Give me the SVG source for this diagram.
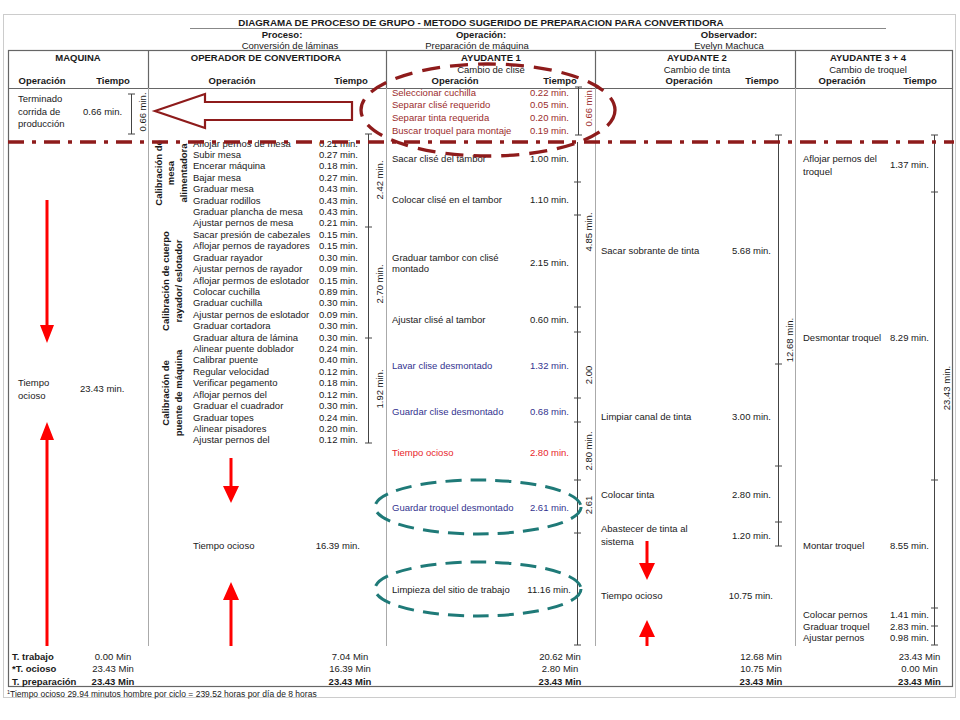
<svg xmlns="http://www.w3.org/2000/svg" width="960" height="720" viewBox="0 0 960 720">
<style>
text{font-family:"Liberation Sans",Arial,sans-serif;font-size:9.5px;fill:#1a1a1a}
.b{font-weight:bold}
.c{text-anchor:middle}
.r{text-anchor:end}
.dr{fill:#9B2C2C}
.nv{fill:#33338F}
.rd{fill:#E8262B}
.frame{fill:none;stroke:#666;stroke-width:1.2}
.col{stroke:#aaa;stroke-width:1}
.brk{stroke:#444;stroke-width:1;fill:none}
.arw{fill:#FF0000}
.dd{fill:none;stroke:#8E1B1B;stroke-width:3.5;stroke-dasharray:16 8 4 8}
.rell{fill:none;stroke:#8E1B1B;stroke-width:3.3;stroke-dasharray:18 10}
.tell{fill:none;stroke:#1F7A78;stroke-width:3;stroke-dasharray:16 9}
</style>
<rect x="0" y="0" width="960" height="720" fill="#fff"/>
<rect x="3.5" y="14.5" width="952" height="683" fill="none" stroke="#ccc" stroke-width="1"/>

<g id="header">
<text x="481" y="25.5" class="b c" style="font-size:9.8px">DIAGRAMA DE PROCESO DE GRUPO - METODO SUGERIDO DE PREPARACION PARA CONVERTIDORA</text>
<line x1="190" y1="28.5" x2="886" y2="28.5" stroke="#888" stroke-width="1"/>
<text x="282" y="38" class="b c">Proceso:</text>
<text x="290" y="48.5" class="c">Conversión de láminas</text>
<text x="481" y="38" class="b c">Operación:</text>
<text x="477" y="48.5" class="c">Preparación de máquina</text>
<text x="729" y="38" class="b c">Observador:</text>
<text x="729" y="48.5" class="c">Evelyn Machuca</text>
<rect x="8.5" y="50.5" width="944" height="636" class="frame"/>
<line x1="8" y1="88.5" x2="952" y2="88.5" stroke="#666" stroke-width="1.2"/>
<line x1="148.5" y1="50" x2="148.5" y2="88" stroke="#666" stroke-width="1.2"/>
<line x1="386.5" y1="50" x2="386.5" y2="88" stroke="#666" stroke-width="1.2"/>
<line x1="595.5" y1="50" x2="595.5" y2="88" stroke="#666" stroke-width="1.2"/>
<line x1="795.5" y1="50" x2="795.5" y2="88" stroke="#666" stroke-width="1.2"/>
<line x1="148.5" y1="88" x2="148.5" y2="646" class="col"/>
<line x1="386.5" y1="88" x2="386.5" y2="646" class="col"/>
<line x1="595.5" y1="88" x2="595.5" y2="646" class="col"/>
<line x1="795.5" y1="88" x2="795.5" y2="646" class="col"/>
<text x="78" y="60.5" class="b c">MAQUINA</text>
<text x="266" y="60.5" class="b c">OPERADOR DE CONVERTIDORA</text>
<text x="491" y="60.5" class="b c">AYUDANTE 1</text>
<text x="697" y="60.5" class="b c">AYUDANTE 2</text>
<text x="868" y="60.5" class="b c">AYUDANTE 3 + 4</text>
<text x="491" y="72.5" class="c">Cambio de clisé</text>
<text x="697" y="72.5" class="c">Cambio de tinta</text>
<text x="868" y="72.5" class="c">Cambio de troquel</text>
<text x="42" y="84" class="b c">Operación</text>
<text x="113" y="84" class="b c">Tiempo</text>
<text x="232" y="84" class="b c">Operación</text>
<text x="351" y="84" class="b c">Tiempo</text>
<text x="455" y="84" class="b c">Operación</text>
<text x="560" y="84" class="b c">Tiempo</text>
<text x="689" y="84" class="b c">Operación</text>
<text x="762" y="84" class="b c">Tiempo</text>
<text x="842" y="84" class="b c">Operación</text>
<text x="920" y="84" class="b c">Tiempo</text>
</g>

<g id="maquina">
<text x="18" y="101.5">Terminado</text>
<text x="18" y="114.5">corrida de</text>
<text x="18" y="127">producción</text>
<text x="83" y="114.5">0.66 min.</text>
<path d="M131.5 94V134M128 94H135M128 134H135" class="brk"/>
<text transform="translate(145.5,112) rotate(-90)" class="c">0.66 min.</text>
<text x="18" y="385.5">Tiempo</text>
<text x="18" y="398.5">ocioso</text>
<text x="80" y="391.5">23.43 min.</text>
</g>

<g id="operador">
<text transform="translate(161.5,173) rotate(-90)" class="b c">Calibración de</text>
<text transform="translate(174,173) rotate(-90)" class="b c">mesa</text>
<text transform="translate(186.5,173) rotate(-90)" class="b c">alimentadora</text>
<text transform="translate(168.5,281) rotate(-90)" class="b c">Calibración de cuerpo</text>
<text transform="translate(181.5,281) rotate(-90)" class="b c">rayador/ eslotador</text>
<text transform="translate(168.5,393) rotate(-90)" class="b c">Calibración de</text>
<text transform="translate(181.5,393) rotate(-90)" class="b c">puente de máquina</text>
<text x="193" y="146.5">Aflojar pernos de mesa<tspan x="193" dy="11.42">Subir mesa</tspan><tspan x="193" dy="11.42">Encerar máquina</tspan><tspan x="193" dy="11.42">Bajar mesa</tspan><tspan x="193" dy="11.42">Graduar mesa</tspan><tspan x="193" dy="11.42">Graduar rodillos</tspan><tspan x="193" dy="11.42">Graduar plancha de mesa</tspan><tspan x="193" dy="11.42">Ajustar pernos de mesa</tspan><tspan x="193" dy="11.42">Sacar presión de cabezales</tspan><tspan x="193" dy="11.42">Aflojar pernos de rayadores</tspan><tspan x="193" dy="11.42">Graduar rayador</tspan><tspan x="193" dy="11.42">Ajustar pernos de rayador</tspan><tspan x="193" dy="11.42">Aflojar permos de eslotador</tspan><tspan x="193" dy="11.42">Colocar cuchilla</tspan><tspan x="193" dy="11.42">Graduar cuchilla</tspan><tspan x="193" dy="11.42">Ajustar pernos de eslotador</tspan><tspan x="193" dy="11.42">Graduar cortadora</tspan><tspan x="193" dy="11.42">Graduar altura de lámina</tspan><tspan x="193" dy="11.42">Alinear puente doblador</tspan><tspan x="193" dy="11.42">Calibrar puente</tspan><tspan x="193" dy="11.42">Regular velocidad</tspan><tspan x="193" dy="11.42">Verificar pegamento</tspan><tspan x="193" dy="11.42">Aflojar pernos del</tspan><tspan x="193" dy="11.42">Graduar el cuadrador</tspan><tspan x="193" dy="11.42">Graduar topes</tspan><tspan x="193" dy="11.42">Alinear pisadores</tspan><tspan x="193" dy="11.42">Ajustar pernos del</tspan></text>
<text x="358" y="146.5" class="r">0.21 min.<tspan x="358" dy="11.42">0.27 min.</tspan><tspan x="358" dy="11.42">0.18 min.</tspan><tspan x="358" dy="11.42">0.27 min.</tspan><tspan x="358" dy="11.42">0.43 min.</tspan><tspan x="358" dy="11.42">0.43 min.</tspan><tspan x="358" dy="11.42">0.43 min.</tspan><tspan x="358" dy="11.42">0.21 min.</tspan><tspan x="358" dy="11.42">0.15 min.</tspan><tspan x="358" dy="11.42">0.15 min.</tspan><tspan x="358" dy="11.42">0.30 min.</tspan><tspan x="358" dy="11.42">0.09 min.</tspan><tspan x="358" dy="11.42">0.15 min.</tspan><tspan x="358" dy="11.42">0.89 min.</tspan><tspan x="358" dy="11.42">0.30 min.</tspan><tspan x="358" dy="11.42">0.09 min.</tspan><tspan x="358" dy="11.42">0.30 min.</tspan><tspan x="358" dy="11.42">0.30 min.</tspan><tspan x="358" dy="11.42">0.24 min.</tspan><tspan x="358" dy="11.42">0.40 min.</tspan><tspan x="358" dy="11.42">0.12 min.</tspan><tspan x="358" dy="11.42">0.18 min.</tspan><tspan x="358" dy="11.42">0.12 min.</tspan><tspan x="358" dy="11.42">0.30 min.</tspan><tspan x="358" dy="11.42">0.24 min.</tspan><tspan x="358" dy="11.42">0.20 min.</tspan><tspan x="358" dy="11.42">0.12 min.</tspan></text>
<path d="M368.5 134V443M365 134H372M365 227H372M365 338H372M365 443H372" class="brk"/>
<text transform="translate(382.5,180) rotate(-90)" class="c">2.42 min.</text>
<text transform="translate(382.5,284) rotate(-90)" class="c">2.70 min.</text>
<text transform="translate(382.5,389) rotate(-90)" class="c">1.92 min.</text>
<text x="193" y="548.5">Tiempo ocioso</text>
<text x="360" y="548.5" class="r">16.39 min.</text>
</g>

<g id="ayudante1">
<text x="392" y="95.5" class="dr">Seleccionar cuchilla</text>
<text x="392" y="107.5" class="dr">Separar clisé requerido</text>
<text x="392" y="120.5" class="dr">Separar tinta requerida</text>
<text x="392" y="133.5" class="dr">Buscar troquel para montaje</text>
<text x="569" y="95.5" class="r dr">0.22 min.</text>
<text x="569" y="107.5" class="r dr">0.05 min.</text>
<text x="569" y="120.5" class="r dr">0.20 min.</text>
<text x="569" y="133.5" class="r dr">0.19 min.</text>
<path d="M578.5 87V135M575 87H582M575 135H582" class="brk"/>
<text transform="translate(591.5,107) rotate(-90)" class="c dr">0.66 min.</text>
<text x="392" y="161.5">Sacar clisé del tambor</text>
<text x="569" y="161.5" class="r">1.00 min.</text>
<text x="392" y="202.5">Colocar clisé en el tambor</text>
<text x="569" y="202.5" class="r">1.10 min.</text>
<text x="392" y="260.5">Graduar tambor con clisé</text>
<text x="392" y="272">montado</text>
<text x="569" y="266" class="r">2.15 min.</text>
<text x="392" y="322.5">Ajustar clisé al tambor</text>
<text x="569" y="322.5" class="r">0.60 min.</text>
<text x="392" y="368.5" class="nv">Lavar clise desmontado</text>
<text x="569" y="368.5" class="r nv">1.32 min.</text>
<text x="392" y="414.5" class="nv">Guardar clise desmontado</text>
<text x="569" y="414.5" class="r nv">0.68 min.</text>
<text x="392" y="455.5" class="rd">Tiempo ocioso</text>
<text x="569" y="455.5" class="r rd">2.80 min.</text>
<text x="392" y="510.5" class="nv">Guardar troquel desmontado</text>
<text x="569" y="510.5" class="r nv">2.61 min.</text>
<text x="392" y="592.5">Limpieza del sitio de trabajo</text>
<text x="571" y="592.5" class="r">11.16 min.</text>
<path d="M577.5 142V645M574 182H581M574 215H581M574 307H581M574 332H581M574 398H581M574 422H581M574 480H581M574 533H581M574 645H581" class="brk"/>
<text transform="translate(591.5,232) rotate(-90)" class="c">4.85 min.</text>
<text transform="translate(591.5,375) rotate(-90)" class="c">2.00</text>
<text transform="translate(591.5,451) rotate(-90)" class="c">2.80 min.</text>
<text transform="translate(591.5,505) rotate(-90)" class="c">2.61</text>
</g>

<g id="ayudante2">
<text x="601" y="253.5">Sacar sobrante de tinta</text>
<text x="771" y="253.5" class="r">5.68 min.</text>
<text x="601" y="419.5">Limpiar canal de tinta</text>
<text x="771" y="419.5" class="r">3.00 min.</text>
<text x="601" y="497.5">Colocar tinta</text>
<text x="771" y="497.5" class="r">2.80 min.</text>
<text x="601" y="531.5">Abastecer de tinta al</text>
<text x="601" y="544.5">sistema</text>
<text x="771" y="538.5" class="r">1.20 min.</text>
<text x="601" y="598.5">Tiempo ocioso</text>
<text x="773" y="598.5" class="r">10.75 min.</text>
<path d="M778.5 135V546M775 135H782M775 364H782M775 466H782M775 522H782M775 546H782" class="brk"/>
<text transform="translate(792.5,340) rotate(-90)" class="c">12.68 min.</text>
</g>

<g id="ayudante34">
<text x="803" y="161.5">Aflojar pernos del</text>
<text x="803" y="174.5">troquel</text>
<text x="929" y="167.5" class="r">1.37 min.</text>
<text x="803" y="340.5">Desmontar troquel</text>
<text x="929" y="340.5" class="r">8.29 min.</text>
<text x="803" y="548.5">Montar troquel</text>
<text x="929" y="548.5" class="r">8.55 min.</text>
<text x="803" y="617.5">Colocar pernos</text>
<text x="929" y="617.5" class="r">1.41 min.</text>
<text x="803" y="629.5">Graduar troquel</text>
<text x="929" y="629.5" class="r">2.83 min.</text>
<text x="803" y="640.5">Ajustar pernos</text>
<text x="929" y="640.5" class="r">0.98 min.</text>
<path d="M934.5 135V645M931 135H938M931 192H938M931 480H938M931 608H938M931 626H938M931 645H938" class="brk"/>
<text transform="translate(949.5,388) rotate(-90)" class="c">23.43 min.</text>
</g>

<g id="totals">
<text x="12" y="659.5" class="b">T. trabajo</text>
<text x="12" y="672" class="b">*T. ocioso</text>
<text x="12" y="684.5" class="b">T. preparación</text>
<text x="113" y="659.5" class="c">0.00 Min</text>
<text x="113" y="672" class="c">23.43 Min</text>
<text x="113" y="684.5" class="b c">23.43 Min</text>
<text x="350" y="659.5" class="c">7.04 Min</text>
<text x="350" y="672" class="c">16.39 Min</text>
<text x="350" y="684.5" class="b c">23.43 Min</text>
<text x="560" y="659.5" class="c">20.62 Min</text>
<text x="560" y="672" class="c">2.80 Min</text>
<text x="560" y="684.5" class="b c">23.43 Min</text>
<text x="761" y="659.5" class="c">12.68 Min</text>
<text x="761" y="672" class="c">10.75 Min</text>
<text x="761" y="684.5" class="b c">23.43 Min</text>
<text x="919.5" y="659.5" class="c">23.43 Min</text>
<text x="919.5" y="672" class="c">0.00 Min</text>
<text x="919.5" y="684.5" class="b c">23.43 Min</text>
<text x="7" y="697" style="font-size:8.5px"><tspan style="font-size:5.5px" dy="-3">1</tspan><tspan dy="3">Tiempo ocioso 29.94 minutos hombre por ciclo = 239.52 horas por día de 8 horas</tspan></text>
</g>

<g id="connectors">
<polygon points="155,111 205,94 205,102 352,102 352,120 205,120 205,128" fill="#fff" stroke="#8E1B1B" stroke-width="2.2"/>
<line x1="8" y1="142" x2="954" y2="142" class="dd"/>
<ellipse cx="488" cy="110" rx="127" ry="46" class="rell"/>
<ellipse cx="478" cy="507" rx="103" ry="27" class="tell"/>
<ellipse cx="478" cy="589" rx="103" ry="27" class="tell"/>
<path class="arw" d="M45.5 200H48.5V325H54L47 343L40 325H45.5Z"/>
<path class="arw" d="M45.5 646H48.5V440H54L47 422L40 440H45.5Z"/>
<path class="arw" d="M229.5 458H232.5V486H239L231 503L223 486H229.5Z"/>
<path class="arw" d="M229.5 646H232.5V600H239L231 582L223 600H229.5Z"/>
<path class="arw" d="M645.5 541H648.5V563H655L647 580L639 563H645.5Z"/>
<path class="arw" d="M645.5 646H648.5V637H655L647 620L639 637H645.5Z"/>
</g>
</svg>
